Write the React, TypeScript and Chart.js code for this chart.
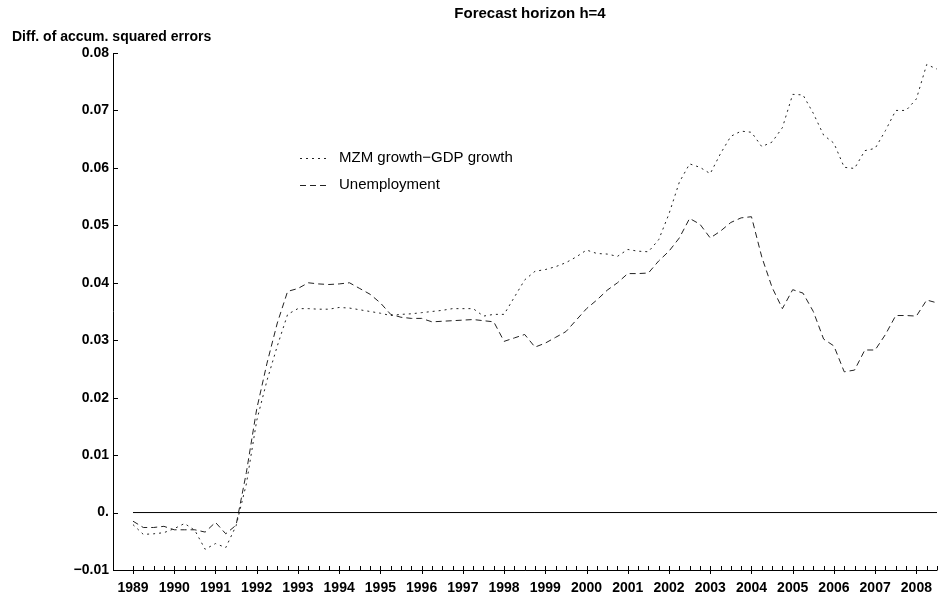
import React, { useEffect, useRef } from "react";
import { Chart, registerables } from "chart.js";

Chart.register(...registerables);

const startYear = 1989;
const mzmGdp: number[] = [
  -0.0021, -0.0038, -0.0037, -0.0035, -0.0028, -0.0019, -0.0031, -0.0064,
  -0.0054, -0.0061, -0.0023, 0.005, 0.016, 0.023, 0.029, 0.0345,
  0.0355, 0.0355, 0.0354, 0.0354, 0.0357, 0.0356, 0.0353, 0.035,
  0.0347, 0.0343, 0.0345, 0.0346, 0.0348, 0.035, 0.0352, 0.0355,
  0.0355, 0.0355, 0.0342, 0.0345, 0.0345, 0.0375, 0.0405, 0.042,
  0.0423, 0.0428, 0.0435, 0.0445, 0.0457, 0.0451, 0.045, 0.0446,
  0.0458, 0.0455, 0.0454, 0.0475, 0.052, 0.0575, 0.0607, 0.0601,
  0.059, 0.0625, 0.0655, 0.0664, 0.0662, 0.0637, 0.0645, 0.067,
  0.0728, 0.0727, 0.0695, 0.0657, 0.0643, 0.0601, 0.0599, 0.063,
  0.0634, 0.0665, 0.07, 0.07, 0.072, 0.078, 0.0772,
];
const unemployment: number[] = [
  -0.0015, -0.0026, -0.0026, -0.0024, -0.003, -0.003, -0.003, -0.0034,
  -0.0017, -0.0037, -0.0022, 0.007, 0.018, 0.026, 0.033, 0.0385,
  0.039, 0.04, 0.0398, 0.0397, 0.0398, 0.04, 0.039, 0.038,
  0.0365, 0.0345, 0.034, 0.0338, 0.0338, 0.0332, 0.0333, 0.0334,
  0.0335, 0.0336, 0.0334, 0.0332, 0.0298, 0.0304, 0.031, 0.0288,
  0.0295, 0.0305, 0.0315, 0.0335, 0.0355, 0.037, 0.0387, 0.04,
  0.0416, 0.0416, 0.0417, 0.0438, 0.0455, 0.0478, 0.0512, 0.0502,
  0.0478, 0.049, 0.0505, 0.0513, 0.0515, 0.0445, 0.0392, 0.0355,
  0.0388, 0.0382, 0.035, 0.0302, 0.029, 0.0245, 0.0248, 0.0283,
  0.0283, 0.031, 0.0343, 0.0343, 0.0342, 0.037, 0.0365,
];
const yearTicks: number[] = [
  1989, 1990, 1991, 1992, 1993, 1994, 1995, 1996, 1997, 1998,
  1999, 2000, 2001, 2002, 2003, 2004, 2005, 2006, 2007, 2008,
];
const yearLabels: string[] = yearTicks.map((y) => String(y));
const yTickValues: number[] = [-0.01, 0, 0.01, 0.02, 0.03, 0.04, 0.05, 0.06, 0.07, 0.08];
const yTickLabels: string[] = ["\u22120.01", "0.", "0.01", "0.02", "0.03", "0.04", "0.05", "0.06", "0.07", "0.08"];
const seriesLabels: string[] = ["MZM growth\u2212GDP growth", "Unemployment"];
const titleText = "Forecast horizon h=4";
const yAxisTitle = "Diff. of accum. squared errors";

const FONT = "'Liberation Sans', Arial, Helvetica, sans-serif";
const DOT = [2, 4];
const DASH = [6, 4];
const LINE_COLOR = "#222";

const quarterX = mzmGdp.map((_, i) => startYear + i / 4);

const decorPlugin = {
  id: "decor",
  afterDraw(chart: any) {
    const { ctx, chartArea, scales } = chart;
    const { left, right, top, bottom } = chartArea;
    const x = scales.x;
    const y = scales.y;
    ctx.save();
    ctx.strokeStyle = "#000";
    ctx.lineWidth = 1;
    ctx.setLineDash([]);
    ctx.beginPath();
    ctx.moveTo(left + 0.5, top);
    ctx.lineTo(left + 0.5, bottom + 0.5);
    ctx.lineTo(right, bottom + 0.5);
    ctx.stroke();
    ctx.beginPath();
    yTickValues.forEach((v) => {
      const py = Math.round(y.getPixelForValue(v)) + 0.5;
      ctx.moveTo(left, py);
      ctx.lineTo(left + 5, py);
    });
    ctx.stroke();
    ctx.beginPath();
    quarterX.forEach((v) => {
      const px = Math.round(x.getPixelForValue(v)) + 0.5;
      const major = Math.abs(v - Math.round(v)) < 1e-6;
      ctx.moveTo(px, bottom - 4);
      ctx.lineTo(px, bottom + (major ? 4 : 0.5));
    });
    ctx.stroke();
    ctx.fillStyle = "#000";
    ctx.textBaseline = "middle";
    ctx.font = `bold 15px ${FONT}`;
    ctx.textAlign = "center";
    ctx.fillText(titleText, 530, 14);
    ctx.font = `bold 14px ${FONT}`;
    ctx.textAlign = "left";
    ctx.fillText(yAxisTitle, 12, 37);
    const rows = [
      { label: seriesLabels[0], dash: DOT, yy: 158 },
      { label: seriesLabels[1], dash: DASH, yy: 185 },
    ];
    rows.forEach((r) => {
      ctx.strokeStyle = LINE_COLOR;
      ctx.setLineDash(r.dash);
      ctx.beginPath();
      ctx.moveTo(300, r.yy + 0.5);
      ctx.lineTo(330, r.yy + 0.5);
      ctx.stroke();
      ctx.setLineDash([]);
      ctx.font = `15px ${FONT}`;
      ctx.textAlign = "left";
      ctx.fillText(r.label, 339, r.yy);
    });
    ctx.restore();
  },
};

export default function App() {
  const ref = useRef<HTMLCanvasElement | null>(null);
  useEffect(() => {
    if (!ref.current) return;
    const chart = new Chart(ref.current, {
      type: "line",
      data: {
        datasets: [
          {
            label: "zero",
            data: [
              { x: yearTicks[0], y: 0 },
              { x: quarterX[quarterX.length - 1], y: 0 },
            ],
            borderColor: "#000",
            borderWidth: 1,
            pointRadius: 0,
          },
          {
            label: seriesLabels[0],
            data: mzmGdp.map((v, i) => ({ x: quarterX[i], y: v })),
            borderColor: LINE_COLOR,
            borderWidth: 1,
            borderDash: DOT,
            pointRadius: 0,
            tension: 0,
          },
          {
            label: seriesLabels[1],
            data: unemployment.map((v, i) => ({ x: quarterX[i], y: v })),
            borderColor: LINE_COLOR,
            borderWidth: 1,
            borderDash: DASH,
            pointRadius: 0,
            tension: 0,
          },
        ],
      },
      options: {
        responsive: false,
        animation: false,
        layout: { padding: { top: 53, right: 3, left: 0, bottom: 0 } },
        plugins: {
          legend: { display: false },
          tooltip: { enabled: false },
          title: { display: false },
        },
        scales: {
          x: {
            type: "linear",
            min: 1988.515,
            max: 2008.5,
            grid: { display: false, drawTicks: false },
            border: { display: false },
            afterBuildTicks: (scale: any) => {
              scale.ticks = yearTicks.map((v) => ({ value: v }));
            },
            afterFit: (scale: any) => {
              scale.height = 28;
            },
            ticks: {
              autoSkip: false,
              maxRotation: 0,
              padding: 7,
              color: "#000",
              font: { family: FONT, size: 14, weight: "bold", lineHeight: 1.6 },
              callback: (v: any) => {
                const idx = yearTicks.indexOf(Number(v));
                return idx >= 0 ? yearLabels[idx] : "";
              },
            },
          },
          y: {
            type: "linear",
            min: -0.01,
            max: 0.08,
            grid: { display: false, drawTicks: false },
            border: { display: false },
            afterBuildTicks: (scale: any) => {
              scale.ticks = yTickValues.map((v) => ({ value: v }));
            },
            afterFit: (scale: any) => {
              scale.width = 113;
            },
            ticks: {
              autoSkip: false,
              padding: 4,
              color: "#000",
              font: { family: FONT, size: 14, weight: "bold" },
              callback: (v: any) => {
                const idx = yTickValues.findIndex((t) => Math.abs(t - Number(v)) < 1e-9);
                return idx >= 0 ? yTickLabels[idx] : "";
              },
            },
          },
        },
      },
      plugins: [decorPlugin],
    } as any);
    return () => chart.destroy();
  }, []);
  return (
    <div style={{ position: "fixed", left: 0, top: 0, width: 940, height: 598, background: "#fff" }}>
      <canvas ref={ref} width={940} height={598} />
    </div>
  );
}
